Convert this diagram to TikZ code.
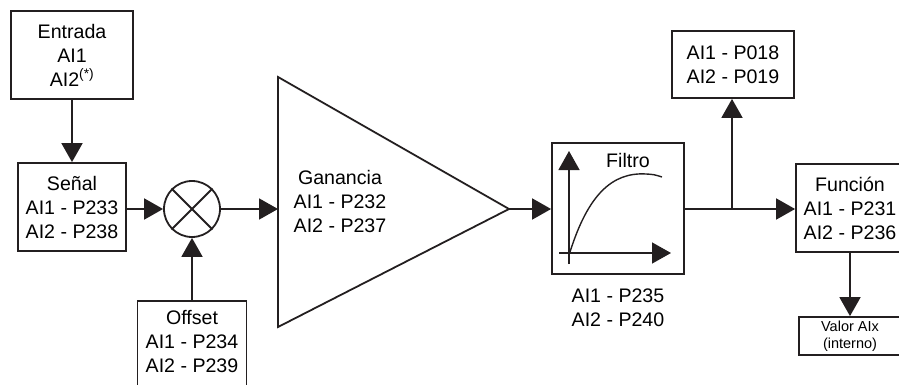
\documentclass[tikz,border=0pt]{standalone}
\usepackage{fontspec}
\setmainfont{Liberation Sans}
\usepackage{xcolor}
\usetikzlibrary{calc, arrows.meta, positioning}
\definecolor{linea}{HTML}{231F20}

\tikzset{
  caja/.style={draw=linea, line width=1.8pt, inner sep=0pt, align=center, font=\fontsize{19.6}{24}\selectfont},
  texto/.style={inner sep=0pt, align=center, font=\fontsize{19.6}{24}\selectfont},
  flecha/.style={draw=linea, line width=1.8pt, -{Triangle[length=19pt,width=21pt]}},
}

\begin{document}
\begin{tikzpicture}[x=1pt, y=-1pt]
\useasboundingbox (0,0) rectangle (899,385);
\clip (0,0) rectangle (899,385);
% bloques
\node[caja, minimum width=122, minimum height=88] (entrada) at (72,55) {Entrada\\AI1\\AI2\textsuperscript{(*)}};
\node[caja, minimum width=108, minimum height=88] (senal) at (72,207) {Señal\\AI1 - P233\\AI2 - P238};
\node[draw=linea, line width=1.8pt, circle, minimum size=56] (suma) at (192,209) {};
\draw[linea, line width=1.8pt] (suma.north west) -- (suma.south east) (suma.north east) -- (suma.south west);
\node[caja, minimum width=109, minimum height=94] (offset) at (192,348) {};
\node[texto] (offsettxt) at (192,342) {Offset\\AI1 - P234\\AI2 - P239};
% ganancia
\coordinate (gin) at (278,209);
\coordinate (gout) at (509,209);
\draw[linea, line width=1.8pt] (278,77) -- (gout) -- (278,327) -- cycle;
\node[texto] (ganancia) at (340,201) {Ganancia\\AI1 - P232\\AI2 - P237};
% filtro
\node[caja, minimum width=132, minimum height=131] (filtro) at (618,208.5) {};
\draw[flecha, line width=1.4pt] (569,264) -- (569,151);
\draw[flecha, line width=1.4pt] (559,253) -- (671,253);
\draw[linea, line width=1.4pt] (570,252) .. controls (588,195) and (612,172) .. (646,174) .. controls (654,174.5) .. (662,177);
\node[texto] (filtrotit) at (628,160) {Filtro};
\node[texto] (filtropar) at (618,308) {AI1 - P235\\AI2 - P240};
% salidas
\node[caja, minimum width=122, minimum height=67] (lectura) at (733,64.5) {AI1 - P018\\AI2 - P019};
\node[caja, minimum width=108, minimum height=88] (funcion) at (850,208) {Función\\AI1 - P231\\AI2 - P236};
\node[caja, minimum width=102, minimum height=38, font=\fontsize{14.5}{17}\selectfont] (valor) at (850,336) {Valor AIx\\(interno)};
% conexiones
\draw[flecha] (entrada.south) -- (senal.north);
\draw[flecha] (senal.east |- suma) -- (suma.west);
\draw[flecha] (offset.north) -- (suma.south);
\draw[flecha] (suma.east) -- (gin);
\draw[flecha] (gout) -- (filtro.west |- gout);
\coordinate (rama) at (732,209);
\draw[linea, line width=1.8pt] (filtro.east |- rama) -- (rama);
\draw[flecha] (rama) -- (lectura.south -| rama);
\draw[flecha] (rama) -- (funcion.west |- rama);
\draw[flecha] (funcion.south) -- (valor.north);
\end{tikzpicture}
\end{document}
